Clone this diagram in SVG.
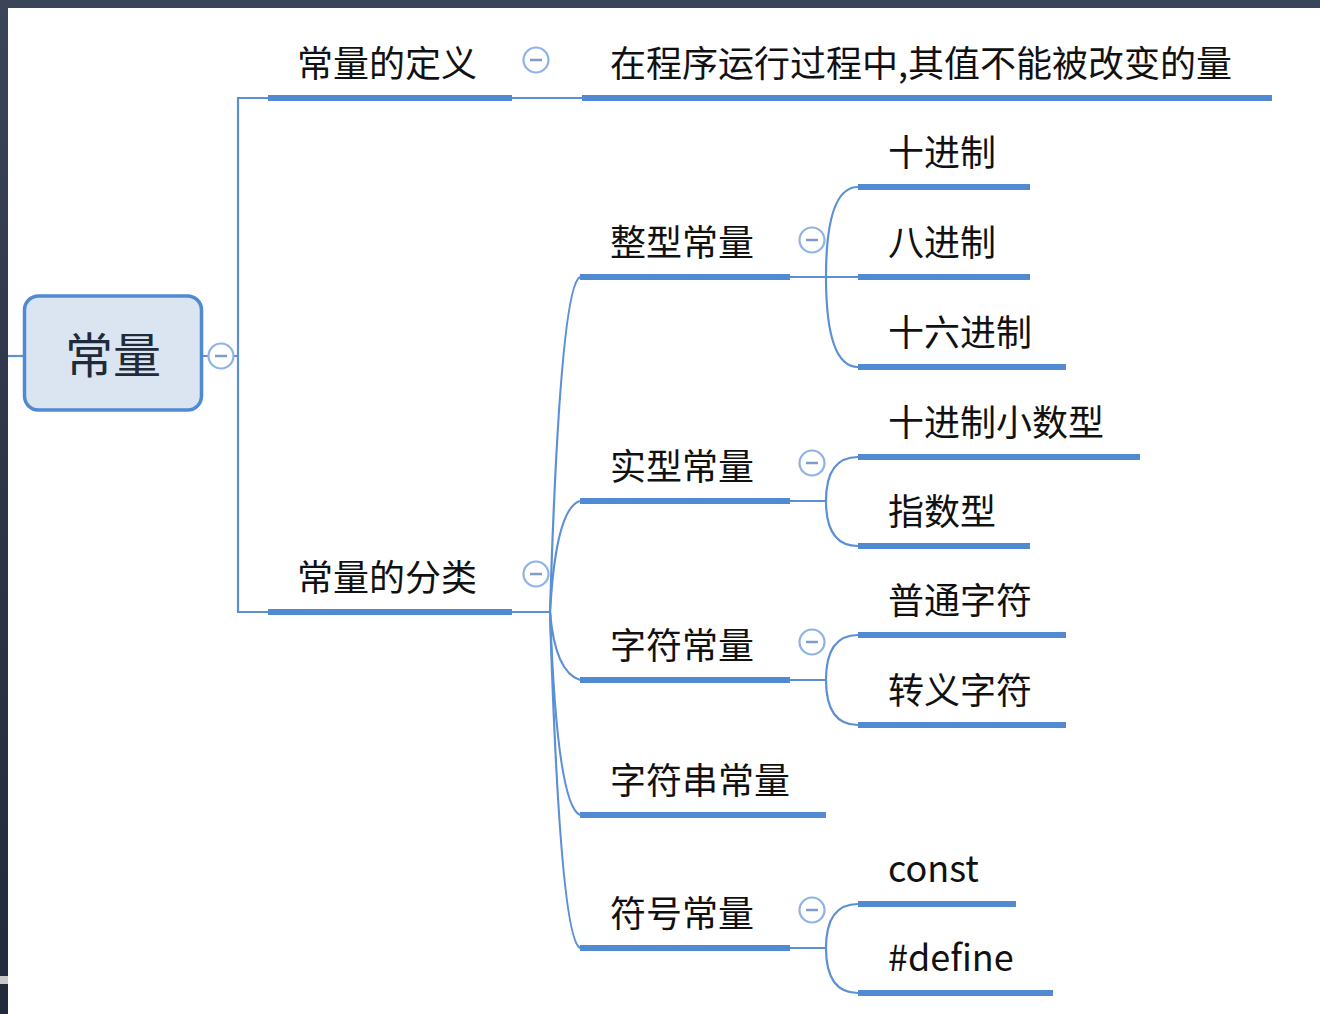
<svg xmlns="http://www.w3.org/2000/svg" width="1320" height="1014" viewBox="0 0 1320 1014">
<defs>
<linearGradient id="frame" x1="0" y1="0" x2="0" y2="1">
<stop offset="0" stop-color="#3b4559"/>
<stop offset="0.5" stop-color="#2c3446"/>
<stop offset="1" stop-color="#232b3a"/>
</linearGradient>
</defs>
<style>
.t{font-family:"Noto Sans CJK SC","Noto Sans",sans-serif;fill:#111;font-size:36px}
.u{stroke:#5289d3;stroke-width:6;fill:none;stroke-linecap:butt}
.c{stroke:#5b8fd6;stroke-width:2.2;fill:none}
.k{fill:#fff;stroke:#8fb3e6;stroke-width:2.2}
.m{stroke:#7f9cc8;stroke-width:2.5}
</style>
<rect x="0" y="0" width="1320" height="1014" fill="url(#frame)"/>
<rect x="8" y="8" width="1312" height="1006" fill="#fff"/>
<rect x="0" y="976" width="8" height="8" fill="#c8c8c8"/>

<g id="connectors">
<path class="c" d="M8,356 H24"/>
<path class="c" d="M202,356 H238"/>
<path class="c" d="M268,98 H238 V612 H268"/>
<path class="c" d="M512,98 H582"/>
<path class="c" d="M512,612 H550"/>
<path class="c" d="M550,612 Q560,287 580,277"/>
<path class="c" d="M550,612 Q556,508 580,501"/>
<path class="c" d="M550,612 Q555,672 580,680"/>
<path class="c" d="M550,612 Q557,805 580,815"/>
<path class="c" d="M550,612 Q560,938 580,948"/>
<path class="c" d="M790,277 H858"/>
<path class="c" d="M826,277 Q826,187 858,187"/>
<path class="c" d="M826,277 Q826,367 858,367"/>
<path class="c" d="M790,501 H826"/>
<path class="c" d="M826,501 Q826,457 858,457"/>
<path class="c" d="M826,501 Q826,546 858,546"/>
<path class="c" d="M790,680 H826"/>
<path class="c" d="M826,680 Q826,635 858,635"/>
<path class="c" d="M826,680 Q826,725 858,725"/>
<path class="c" d="M790,948 H826"/>
<path class="c" d="M826,948 Q826,904 858,904"/>
<path class="c" d="M826,948 Q826,993 858,993"/>
</g>

<g id="root">
<rect x="24.5" y="296" width="177" height="114" rx="14" fill="#dbe5f1" stroke="#5289d3" stroke-width="3.5"/>
<text class="t" x="113" y="373" text-anchor="middle" style="font-size:48px;fill:#1f2a3a">常量</text>
<circle class="k" cx="221" cy="356" r="12.5"/>
<line class="m" x1="215" y1="356" x2="227" y2="356"/>
</g>

<g id="def">
<path class="u" d="M268,98 H512"/>
<text class="t" x="297" y="77">常量的定义</text>
<circle class="k" cx="536" cy="60" r="12.5"/>
<line class="m" x1="530" y1="60" x2="542" y2="60"/>
</g>
<g id="def-text">
<path class="u" d="M582,98 H1272"/>
<text class="t" x="610" y="77">在程序运行过程中,其值不能被改变的量</text>
</g>

<g id="cls">
<path class="u" d="M268,612 H512"/>
<text class="t" x="297" y="591">常量的分类</text>
<circle class="k" cx="536" cy="574" r="12.5"/>
<line class="m" x1="530" y1="574" x2="542" y2="574"/>
</g>

<g id="int">
<path class="u" d="M580,277 H790"/>
<text class="t" x="610" y="256">整型常量</text>
<circle class="k" cx="812" cy="240" r="12.5"/>
<line class="m" x1="806" y1="240" x2="818" y2="240"/>
</g>
<g id="dec"><path class="u" d="M858,187 H1030"/><text class="t" x="888" y="166">十进制</text></g>
<g id="oct"><path class="u" d="M858,277 H1030"/><text class="t" x="888" y="256">八进制</text></g>
<g id="hex"><path class="u" d="M858,367 H1066"/><text class="t" x="888" y="346">十六进制</text></g>

<g id="real">
<path class="u" d="M580,501 H790"/>
<text class="t" x="610" y="480">实型常量</text>
<circle class="k" cx="812" cy="463" r="12.5"/>
<line class="m" x1="806" y1="463" x2="818" y2="463"/>
</g>
<g id="decimal"><path class="u" d="M858,457 H1140"/><text class="t" x="888" y="436">十进制小数型</text></g>
<g id="exp"><path class="u" d="M858,546 H1030"/><text class="t" x="888" y="525">指数型</text></g>

<g id="char">
<path class="u" d="M580,680 H790"/>
<text class="t" x="610" y="659">字符常量</text>
<circle class="k" cx="812" cy="642" r="12.5"/>
<line class="m" x1="806" y1="642" x2="818" y2="642"/>
</g>
<g id="normal"><path class="u" d="M858,635 H1066"/><text class="t" x="888" y="614">普通字符</text></g>
<g id="escape"><path class="u" d="M858,725 H1066"/><text class="t" x="888" y="704">转义字符</text></g>

<g id="string">
<path class="u" d="M580,815 H826"/>
<text class="t" x="610" y="794">字符串常量</text>
</g>

<g id="sym">
<path class="u" d="M580,948 H790"/>
<text class="t" x="610" y="927">符号常量</text>
<circle class="k" cx="812" cy="910" r="12.5"/>
<line class="m" x1="806" y1="910" x2="818" y2="910"/>
</g>
<g id="const"><path class="u" d="M858,904 H1016"/><text class="t" x="888" y="882">const</text></g>
<g id="define"><path class="u" d="M858,993 H1053"/><text class="t" x="888" y="971">#define</text></g>
</svg>
